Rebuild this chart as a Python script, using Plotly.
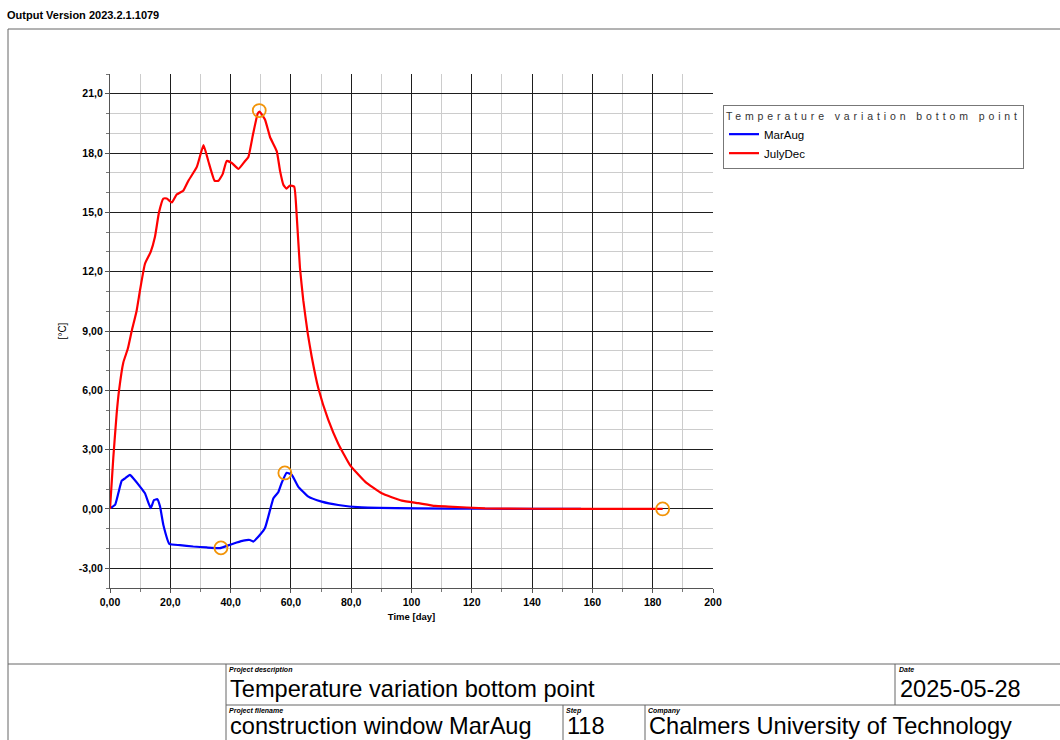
import plotly.graph_objects as go

# ---------------- data ----------------
marAug_days = [0, 1.66, 2.75, 3.9, 5.0, 6.6, 7.7, 9.95, 11.6, 13.5, 14.6, 15.7, 16.6, 17.7, 19.7,
               23.2, 27.6, 32.1, 36.5, 38.7, 42.0, 44.2, 46.4, 47.5, 49.75, 51.4, 53.1, 54.2, 55.8,
               56.9, 58.6, 60.3, 62.4, 65.8, 70.2, 75.7, 83.5, 102, 124, 156.2]
marAug_temp = [0.03, 0.2, 0.79, 1.43, 1.55, 1.72, 1.55, 1.13, 0.79, 0.04, 0.45, 0.49, 0.12, -0.81, -1.77,
               -1.83, -1.9, -1.95, -1.98, -1.87, -1.7, -1.6, -1.57, -1.65, -1.31, -0.97, -0.05, 0.54, 0.84,
               1.3, 1.83, 1.72, 1.13, 0.62, 0.37, 0.2, 0.08, 0.03, 0.01, 0.0]

julyDec_days = [0, 1.1, 2.2, 3.0, 4.4, 5.9, 7.2, 8.8, 9.95, 11.6, 13.5, 14.9, 16.25, 17.7, 18.8, 20.5,
                22.1, 24.3, 26.0, 28.8, 31.0, 32.6, 34.7, 36.0, 37.4, 38.7, 40.4, 42.6, 44.8, 45.9,
                47.5, 49.0, 49.6, 51.4, 53.1, 55.3, 56.4, 57.5, 58.5, 59.7, 61.1, 61.9, 63.0, 64.1,
                65.6, 66.9, 69.1, 72.4, 75.7, 79.6, 84.6, 90.1, 96.8, 102.3, 107.8, 112.2, 124.4,
                140, 160, 183.3]
julyDec_temp = [0, 2.6, 4.8, 6.0, 7.4, 8.1, 9.0, 10.0, 11.06, 12.4, 13.0, 13.75, 15.0, 15.7, 15.7, 15.5,
                15.9, 16.1, 16.6, 17.3, 18.4, 17.6, 16.6, 16.6, 16.95, 17.6, 17.5, 17.2, 17.6, 17.8,
                19.0, 20.0, 20.1, 19.7, 18.8, 18.1, 17.1, 16.4, 16.2, 16.36, 16.3, 14.9, 12.2, 10.56,
                8.87, 7.7, 6.1, 4.5, 3.3, 2.22, 1.38, 0.79, 0.42, 0.29, 0.15, 0.12, 0.03,
                0.01, 0.0, 0.0]

extreme_days = [49.5, 36.8, 58.0, 183.3]
extreme_temp = [20.15, -1.97, 1.82, 0.0]

x_tick_vals = [0, 20, 40, 60, 80, 100, 120, 140, 160, 180, 200]
x_tick_text = ["0,00", "20,0", "40,0", "60,0", "80,0", "100", "120", "140", "160", "180", "200"]
y_tick_vals = [-3, 0, 3, 6, 9, 12, 15, 18, 21]
y_tick_text = ["-3,00", "0,00", "3,00", "6,00", "9,00", "12,0", "15,0", "18,0", "21,0"]

series_names = ["MarAug", "JulyDec"]
legend_title = "Temperature variation bottom point"

# ---------------- layout geometry ----------------
W, H = 1060, 740
L, R, T, B = 110, 713, 74, 588
FONT = "Liberation Sans, Arial, sans-serif"


def px2x(px):
    return (px - L) / (R - L)


def py2y(py):
    return (B - py) / (B - T)


fig = go.Figure()
fig.add_trace(go.Scatter(x=marAug_days, y=marAug_temp, mode="lines", name=series_names[0],
                         line=dict(color="#0000ff", width=2.2, shape="spline", smoothing=0.4)))
fig.add_trace(go.Scatter(x=julyDec_days, y=julyDec_temp, mode="lines", name=series_names[1],
                         line=dict(color="#ff0000", width=2.2, shape="spline", smoothing=0.4)))
fig.add_trace(go.Scatter(x=extreme_days, y=extreme_temp, mode="markers", showlegend=False,
                         marker=dict(symbol="circle-open", size=13, color="#f29408",
                                     line=dict(width=1.8, color="#f29408"))))

axis_common = dict(
    showline=True, linecolor="#555555", linewidth=1.2,
    showgrid=True, gridcolor="#1e1e1e", gridwidth=1.4,
    zeroline=False, ticks="outside", ticklen=4, tickcolor="#555555",
    tickfont=dict(family=FONT, size=10.5, color="black", weight="bold"),
)

fig.update_xaxes(
    range=[0, 200], tickmode="array", tickvals=x_tick_vals, ticktext=x_tick_text,
    minor=dict(tickmode="linear", tick0=0, dtick=10, showgrid=True, gridcolor="#cccccc",
               gridwidth=1.4, ticks="outside", ticklen=3, tickcolor="#777777"),
    title=dict(text="Time [day]", standoff=6,
               font=dict(family=FONT, size=9.5, color="black", weight="bold")),
    **axis_common,
)
fig.update_yaxes(
    range=[-4, 22], tickmode="array", tickvals=y_tick_vals, ticktext=y_tick_text,
    minor=dict(tickmode="linear", tick0=0, dtick=1, showgrid=True, gridcolor="#cccccc",
               gridwidth=1.4, ticks="outside", ticklen=3, tickcolor="#777777"),
    title=dict(text="[°C]", standoff=10,
               font=dict(family=FONT, size=10, color="black")),
    **axis_common,
)

line_col = "#666666"


def hline(y, x0, x1):
    return dict(type="line", xref="paper", yref="paper", x0=px2x(x0), x1=px2x(x1),
                y0=py2y(y), y1=py2y(y), line=dict(color=line_col, width=1))


def vline(x, y0, y1):
    return dict(type="line", xref="paper", yref="paper", x0=px2x(x), x1=px2x(x),
                y0=py2y(y0), y1=py2y(y1), line=dict(color=line_col, width=1))


shapes = [
    hline(29, 8, 1062), vline(8, 29, 742), hline(664, 8, 1062),
    vline(226, 664, 742), hline(705, 226, 1062), vline(895, 664, 705),
    vline(563, 705, 742), vline(645, 705, 742),
]


def ann(text, px, py, size, bold=False, italic=False, color="black"):
    return dict(text=text, x=px2x(px), y=py2y(py), xref="paper", yref="paper",
                xanchor="left", yanchor="middle", showarrow=False, borderpad=0,
                font=dict(family=FONT, size=size, color=color,
                          weight="bold" if bold else "normal",
                          style="italic" if italic else "normal"))


annotations = [
    ann("Output Version 2023.2.1.1079", 6, 15, 11, bold=True),
    ann("Project description", 228, 670, 7, bold=True, italic=True),
    ann("Temperature variation bottom point", 229, 689, 23.6),
    ann("Date", 898, 670, 7, bold=True, italic=True),
    ann("2025-05-28", 899, 689, 23.6),
    ann("Project filename", 228, 711, 7, bold=True, italic=True),
    ann("construction window MarAug", 229, 726, 23.6),
    ann("Step", 565, 711, 7, bold=True, italic=True),
    ann("118", 566, 726, 23.6),
    ann("Company", 647, 711, 7, bold=True, italic=True),
    ann("Chalmers University of Technology", 648, 726, 23.6),
]

fig.update_layout(
    width=W, height=H,
    margin=dict(l=L, r=W - R, t=T, b=H - B, pad=0),
    paper_bgcolor="white", plot_bgcolor="white",
    font=dict(family=FONT, color="black"),
    showlegend=True,
    legend=dict(
        x=px2x(723), y=py2y(105), xanchor="left", yanchor="top",
        bgcolor="white", bordercolor="#777777", borderwidth=1,
        font=dict(family=FONT, size=11.5, color="black"),
        title=dict(text='<span style="letter-spacing:3.9px">' + legend_title + '</span>',
                   side="top center",
                   font=dict(family=FONT, size=10.5, color="#333333")),
        itemwidth=30, tracegroupgap=0,
    ),
    shapes=shapes,
    annotations=annotations,
)

fig.write_html("out.html", config={"displayModeBar": False},
               post_script="document.body.style.margin='0';")
